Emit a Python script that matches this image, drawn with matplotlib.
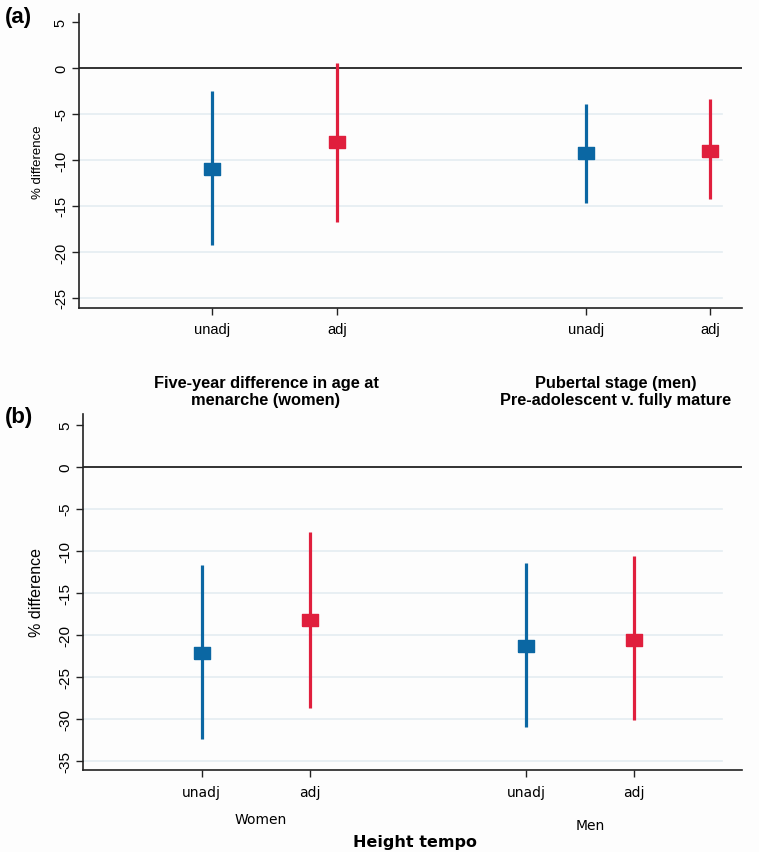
import matplotlib
matplotlib.use("Agg")
import matplotlib.pyplot as plt
import numpy as np

# panel (a): age at menarche / pubertal stage
pos = [1, 2, 4, 5]
ticklabels = ["unadj", "adj", "unadj", "adj"]
est_a = [-11.0, -8.1, -9.2, -9.0]
lo_a = [-19.3, -16.7, -14.7, -14.3]
hi_a = [-2.5, 0.5, -3.9, -3.4]

# panel (b): height tempo
est_b = [-22.2, -18.3, -21.4, -20.6]
lo_b = [-32.4, -28.7, -31.0, -30.2]
hi_b = [-11.7, -7.8, -11.5, -10.6]

groups_a = ["Five-year difference in age at\nmenarche (women)",
            "Pubertal stage (men)\nPre-adolescent v. fully mature"]
groups_b = ["Women", "Men"]

colors = ["#0b67a3", "#e01f3d", "#0b67a3", "#e01f3d"]
grid_col = "#e4edf1"
W, H = 759, 853

plt.rcParams["font.family"] = ["Liberation Sans", "DejaVu Sans"]
fig = plt.figure(figsize=(W / 100, H / 100), dpi=100)
fig.patch.set_facecolor("#fdfdfd")

# rectangle marker a bit wider than tall
rect = [(-1.25, -1), (1.25, -1), (1.25, 1), (-1.25, 1), (-1.25, -1)]


def px(x, y):
    return x / W, 1 - y / H


def panel(ax, est, lo, hi, yticks, ylim, xlim):
    ax.set_facecolor("#fdfdfd")
    for t in yticks:
        if t < 0:
            ax.axhline(t, color=grid_col, lw=1.2, xmax=0.97, zorder=0)
    ax.axhline(0, color="#222222", lw=1.3, zorder=1)
    for i in range(len(pos)):
        ax.plot([pos[i], pos[i]], [lo[i], hi[i]], color=colors[i], lw=2.3,
                solid_capstyle="butt", zorder=2)
        ax.plot(pos[i], est[i], marker=rect, ms=11, color=colors[i],
                ls="none", zorder=3)
    ax.set_xlim(*xlim)
    ax.set_ylim(*ylim)
    ax.set_yticks(yticks)
    ax.set_yticklabels([str(t) for t in yticks], rotation=90, va="center")
    ax.set_xticks(pos)
    for s in ["top", "right"]:
        ax.spines[s].set_visible(False)
    for s in ["left", "bottom"]:
        ax.spines[s].set_color("#222222")
        ax.spines[s].set_linewidth(1.2)
    ax.tick_params(direction="out", length=5, width=1, color="#222222")


# ---- (a)
ax1 = fig.add_axes([79 / W, 1 - 309 / H, 663 / W, 294 / H])
panel(ax1, est_a, lo_a, hi_a, [5, 0, -5, -10, -15, -20, -25], (-26.1, 5.87),
      (-0.072, 5.256))
ax1.set_xticklabels(ticklabels, fontsize=10.5)
ax1.tick_params(axis="y", labelsize=10.5, pad=3)
ax1.tick_params(axis="x", pad=5)
ax1.set_ylabel("% difference", fontsize=9.5, labelpad=7)

fig.text(*px(266, 392), groups_a[0], ha="center", va="center", fontsize=11.8,
         fontweight="bold", linespacing=1.1)
fig.text(*px(616, 392), groups_a[1], ha="center", va="center", fontsize=11.8,
         fontweight="bold", linespacing=1.1)
fig.text(*px(5, 18), "(a)", ha="left", va="center", fontsize=16, fontweight="bold")

# ---- (b)
ax2 = fig.add_axes([83 / W, 1 - 771 / H, 659 / W, 356 / H])
panel(ax2, est_b, lo_b, hi_b, [5, 0, -5, -10, -15, -20, -25, -30, -35],
      (-36.13, 6.25), (-0.10, 6.0))
ax2.set_xticklabels(ticklabels, fontsize=10, family=["DejaVu Sans"])
ax2.tick_params(axis="y", labelsize=11, pad=3)
ax2.tick_params(axis="x", pad=6)
ax2.set_ylabel("% difference", fontsize=11.5, labelpad=10)

fig.text(*px(261, 820), groups_b[0], ha="center", va="center", fontsize=10,
         family=["DejaVu Sans"])
fig.text(*px(590, 826), groups_b[1], ha="center", va="center", fontsize=10,
         family=["DejaVu Sans"])
fig.text(*px(415, 843), "Height tempo", ha="center", va="center", fontsize=11.5,
         fontweight="bold", family=["DejaVu Sans"])
fig.text(*px(5, 418), "(b)", ha="left", va="center", fontsize=16, fontweight="bold")

fig.savefig("out.png", dpi=100, facecolor=fig.get_facecolor())
